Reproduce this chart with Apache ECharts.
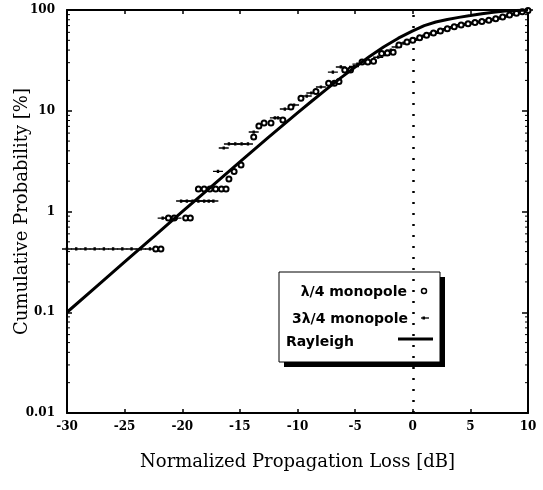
<!DOCTYPE html>
<html>
<head>
<meta charset="utf-8">
<script src="https://cdn.jsdelivr.net/npm/echarts@6/dist/echarts.min.js"></script>
<style>html,body{margin:0;padding:0;background:#fff;}#c{width:543px;height:490px;}</style>
</head>
<body>
<div id="c"></div>
<script>
// ---- data ----
const xMin = -30, xMax = 10, xInterval = 5;
const yMin = 0.01, yMax = 100;
const legendNames = ['λ/4 monopole', '3λ/4 monopole', 'Rayleigh'];
// minor tick positions of the log axis (2..9 within each decade)
const minorTickValues = [
  0.02, 0.03, 0.04, 0.05, 0.06, 0.07, 0.08, 0.09,
  0.2, 0.3, 0.4, 0.5, 0.6, 0.7, 0.8, 0.9,
  2, 3, 4, 5, 6, 7, 8, 9,
  20, 30, 40, 50, 60, 70, 80, 90];

// Rayleigh reference curve (x in dB, cumulative probability in %)
const rayleighX = [-30, -27.5, -25, -22.5, -20, -17.5, -15, -12.5, -10, -8.75, -7.5, -6.25, -5, -3.75, -2.5, -1.25, 0, 1, 2, 3, 4, 5, 6, 7, 8, 9, 10];
const rayleighP = [0.1, 0.178, 0.316, 0.561, 0.995, 1.76, 3.11, 5.47, 9.52, 12.5, 16.3, 21.2, 27.1, 34.5, 43.1, 52.5, 62, 70, 76, 80.5, 84.5, 88, 92, 95, 97.5, 99, 100];

// λ/4 monopole (open circles)
const quarterX = [-22.3, -21.85, -21.2, -20.7, -19.7, -19.3, -18.6, -18.1, -17.6, -17.1, -16.6, -16.2,
  -15.95, -15.5, -14.9, -13.8, -13.35, -12.9, -12.3, -11.27, -10.57, -9.7, -8.4,
  -7.3, -6.8, -6.4, -5.9, -5.4, -4.4, -3.9, -3.4, -2.7, -2.2, -1.7, -1.2, -0.5, 0, 0.6, 1.2, 1.8,
  2.4, 3.0, 3.6, 4.2, 4.8, 5.4, 6.0, 6.6, 7.2, 7.8, 8.4, 9.0, 9.5, 10];
const quarterP = [0.425, 0.425, 0.86, 0.86, 0.86, 0.86, 1.67, 1.67, 1.67, 1.67, 1.67, 1.67,
  2.1, 2.5, 2.9, 5.5, 7.06, 7.56, 7.56, 8.1, 10.9, 13.3, 15.5,
  18.8, 18.8, 19.5, 25.4, 25.4, 30.5, 30.5, 31, 37, 37.4, 38, 45, 48, 50, 53, 56, 59,
  62, 65, 68, 71, 73, 75, 77, 79, 82, 85, 89, 93, 96, 99];

// 3λ/4 monopole (small dots with horizontal dashes)
const threeQuarterX = [-30, -29.2, -28.4, -27.6, -26.8, -26, -25.2, -24.4, -23.6, -22.8,
  -21.7, -21.3, -20.9, -20.5,
  -20.1, -19.6, -19.1, -18.6, -18.1, -17.7, -17.3,
  -16.9, -16.4, -15.95, -15.4, -14.85, -14.3,
  -13.8, -11.96, -11.7, -11.1, -10.3, -9.2, -8.8, -7.97, -6.93, -6.24, -5.1, -4.8, -3.0, -2.4, -1.9, -1.4,
  -0.8, -0.2, 0.3, 0.9, 1.5, 2.1, 2.7, 3.3, 3.9, 4.5, 5.1, 5.7, 6.3, 6.9, 7.5, 8.1, 8.7, 9.2, 9.8, 10];
const threeQuarterP = [0.425, 0.425, 0.425, 0.425, 0.425, 0.425, 0.425, 0.425, 0.425, 0.425,
  0.86, 0.86, 0.86, 0.86,
  1.27, 1.27, 1.27, 1.27, 1.27, 1.27, 1.27,
  2.5, 4.27, 4.68, 4.68, 4.68, 4.68,
  6.15, 8.5, 8.5, 10.4, 11.4, 14, 15, 17.2, 24.2, 27.2, 27.5, 29, 34, 36, 40, 43,
  47, 49, 51, 55, 58, 60, 64, 67, 70, 72, 74, 76, 78, 80, 83, 87, 91, 94, 98, 100];

const zip = (xs, ys) => xs.map((x, i) => [x, ys[i]]);

const chart = echarts.init(document.getElementById('c'), null, {renderer: 'canvas'});
const tickFont = {fontFamily: 'DejaVu Serif', fontWeight: 'bold', fontSize: 12, color: '#000'};
const nameFont = {fontFamily: 'DejaVu Serif', fontSize: 18, color: '#000'};
const axisLine = {show: true, onZero: false, lineStyle: {color: '#000', width: 2}};
const legendFont = 'bold 14px "DejaVu Sans"';

const dashSymbol = 'path://M0,3.3 L10,3.3 L10,4.7 L0,4.7 Z M3.8,2.4 L6.2,2.4 L6.2,5.6 L3.8,5.6 Z';

chart.setOption({
  backgroundColor: '#fff',
  animation: false,
  grid: {left: 67, right: 15, top: 10, bottom: 77, outerBoundsMode: 'none', containLabel: false},
  xAxis: [
    {type: 'value', min: xMin, max: xMax, interval: xInterval, position: 'bottom',
     axisLine: axisLine, axisTick: {inside: true, length: 4, lineStyle: {color: '#000', width: 1.5}},
     axisLabel: Object.assign({margin: 8}, tickFont), splitLine: {show: false},
     name: 'Normalized Propagation Loss [dB]', nameLocation: 'middle', nameGap: 40, nameMoveOverlap: false, nameTextStyle: nameFont},
    {type: 'value', min: xMin, max: xMax, interval: xInterval, position: 'top',
     axisLine: axisLine, axisTick: {inside: true, length: 4, lineStyle: {color: '#000', width: 1.5}},
     axisLabel: {show: false}, splitLine: {show: false}}
  ],
  yAxis: [
    {type: 'log', logBase: 10, min: yMin, max: yMax, position: 'left',
     axisLine: axisLine, axisTick: {inside: true, length: 5, lineStyle: {color: '#000', width: 1.5}},
     axisLabel: Object.assign({margin: 12}, tickFont), splitLine: {show: false},
     name: 'Cumulative Probability [%]', nameLocation: 'middle', nameGap: 36, nameMoveOverlap: false, nameTextStyle: nameFont},
    {type: 'log', logBase: 10, min: yMin, max: yMax, position: 'right',
     axisLine: axisLine, axisTick: {inside: true, length: 6, lineStyle: {color: '#000', width: 1.5}},
     axisLabel: {show: false}, splitLine: {show: false}}
  ],
  graphic: [
    {type: 'rect', z: 0, shape: {x: 284, y: 277, width: 161, height: 90}, style: {fill: '#000'}},
    {type: 'rect', z: 0, shape: {x: 279, y: 272, width: 161, height: 90}, style: {fill: '#fff', stroke: '#000', lineWidth: 1}},
    {type: 'text', z: 1, style: {text: legendNames[0], x: 407, y: 292, fill: '#000', font: legendFont, align: 'right', verticalAlign: 'middle'}},
    {type: 'text', z: 1, style: {text: legendNames[1], x: 408, y: 319, fill: '#000', font: legendFont, align: 'right', verticalAlign: 'middle'}},
    {type: 'text', z: 1, style: {text: legendNames[2], x: 286, y: 342, fill: '#000', font: legendFont, align: 'left', verticalAlign: 'middle'}},
    {type: 'circle', z: 1, shape: {cx: 424, cy: 291, r: 2.5}, style: {fill: '#fff', stroke: '#000', lineWidth: 1.5}},
    {type: 'line', z: 1, shape: {x1: 421, y1: 318, x2: 429, y2: 318}, style: {stroke: '#000', lineWidth: 1.3}},
    {type: 'rect', z: 1, shape: {x: 422.5, y: 316.5, width: 2.5, height: 3}, style: {fill: '#000'}},
    {type: 'line', z: 1, shape: {x1: 398, y1: 339, x2: 433, y2: 339}, style: {stroke: '#000', lineWidth: 3}}
  ],
  series: [
    {type: 'custom', name: 'minorTicks', xAxisIndex: 0, yAxisIndex: 0, silent: true, clip: false,
     data: minorTickValues.map(v => [xMin, v]),
     renderItem: function (params, api) {
       const left = api.coord([xMin, api.value(1)]);
       const right = api.coord([xMax, api.value(1)]);
       return {type: 'group', children: [
         {type: 'line', shape: {x1: left[0], y1: left[1], x2: left[0] + 3, y2: left[1]}, style: {stroke: '#000', lineWidth: 1}},
         {type: 'line', shape: {x1: right[0] - 3, y1: right[1], x2: right[0], y2: right[1]}, style: {stroke: '#000', lineWidth: 1}}
       ]};
     }},
    {name: legendNames[2], type: 'line', xAxisIndex: 0, yAxisIndex: 0,
     data: zip(rayleighX, rayleighP), symbol: 'none', smooth: false,
     lineStyle: {color: '#000', width: 3},
     markLine: {silent: true, symbol: 'none', label: {show: false},
       lineStyle: {color: '#000', width: 2.5, type: [2, 9]}, data: [{xAxis: 0}]}},
    {name: legendNames[1], type: 'scatter', xAxisIndex: 0, yAxisIndex: 0,
     data: zip(threeQuarterX, threeQuarterP), symbol: dashSymbol, symbolSize: [10, 3.2],
     itemStyle: {color: '#000', opacity: 1}},
    {name: legendNames[0], type: 'scatter', xAxisIndex: 0, yAxisIndex: 0,
     data: zip(quarterX, quarterP), symbol: 'emptyCircle', symbolSize: 5,
     itemStyle: {color: '#000', borderColor: '#000', borderWidth: 1.5, opacity: 1}}
  ]
});
</script>
</body>
</html>
